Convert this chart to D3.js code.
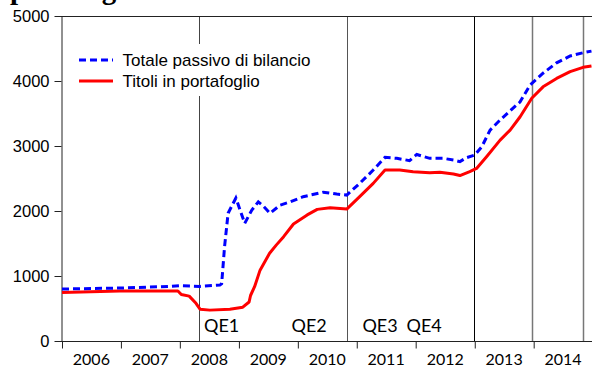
<!DOCTYPE html>
<html>
<head>
<meta charset="utf-8">
<script src="https://cdn.jsdelivr.net/npm/d3@7/dist/d3.min.js"></script>
<style>
  html, body { margin: 0; padding: 0; background: #fff; }
  svg { display: block; }
</style>
</head>
<body>
<svg id="chart" width="592" height="367"></svg>
<script>
// Fed balance sheet: total liabilities vs. securities held (billions USD)
const totaleDates = ["2006-01-01","2006-12-24","2007-10-30","2008-01-01","2008-05-05","2008-09-05","2008-09-16","2008-10-04","2008-10-26","2008-12-13","2009-02-06","2009-03-22","2009-05-01","2009-05-30","2009-07-13","2009-09-13","2009-11-14","2010-02-03","2010-06-07","2010-08-30","2010-10-31","2011-01-19","2011-04-13","2011-06-25","2011-09-06","2011-11-24","2012-01-08","2012-03-28","2012-06-20","2012-08-22","2012-10-01","2012-11-10","2013-01-01","2013-02-14","2013-04-06","2013-06-07","2013-08-08","2013-10-09","2013-12-10","2014-02-28","2014-05-23","2014-08-15","2014-11-03","2014-12-25"];
const totaleValues = [800,815,840,850,840,860,880,1450,1965,2200,1810,2015,2140,2080,1965,2090,2140,2220,2290,2260,2245,2425,2630,2825,2810,2775,2870,2810,2810,2785,2760,2820,2860,2990,3245,3400,3540,3680,3940,4120,4280,4385,4435,4460];

const titoliDates = ["2006-01-01","2006-12-24","2007-12-20","2008-01-10","2008-02-28","2008-04-10","2008-05-05","2008-07-05","2008-11-06","2009-01-25","2009-03-05","2009-03-14","2009-04-08","2009-05-12","2009-07-10","2009-08-20","2009-10-05","2009-12-05","2010-02-28","2010-05-01","2010-07-20","2010-10-31","2011-01-19","2011-04-13","2011-06-25","2011-09-24","2011-12-16","2012-03-28","2012-05-30","2012-08-22","2012-10-01","2012-12-01","2013-01-12","2013-03-15","2013-06-07","2013-08-08","2013-10-09","2013-12-20","2014-02-28","2014-05-23","2014-08-15","2014-11-03","2014-12-25"];
const titoliValues = [745,770,770,715,690,580,490,475,490,520,600,700,835,1090,1350,1475,1605,1800,1940,2025,2050,2030,2220,2425,2630,2630,2605,2590,2595,2570,2545,2605,2655,2835,3090,3245,3450,3735,3910,4040,4145,4210,4230];

const seriesNames = ["Totale passivo di bilancio", "Titoli in portafoglio"];
const yearLabels = ["2006","2007","2008","2009","2010","2011","2012","2013","2014"];
const yTicks = [0, 1000, 2000, 3000, 4000, 5000];

// announcement dates marked with vertical rules
const eventDates = ["2008-04-30","2010-11-04","2012-12-25","2013-12-22","2014-11-01"];
const eventShades = ["#444","#555","#000","#777","#777"];
const qeLabels = ["QE1","QE2","QE3","QE4"];
const qeDates = ["2008-05-30","2009-11-23","2011-02-05","2011-11-05"];

const parse = d3.timeParse("%Y-%m-%d");
const svg = d3.select("#chart");

const plotLeft = 61, plotRight = 592, plotTop = 16, plotBottom = 341;

const x = d3.scaleTime()
  .domain([new Date(2006, 0, 1), new Date(2015, 0, 1)])
  .range([62, 592.6]);
const y = d3.scaleLinear().domain([0, 5000]).range([plotBottom, plotTop]);

// page title (partly above the visible area)
svg.append("text")
  .attr("x", 10).attr("y", -1)
  .attr("font-family", "'Liberation Serif', 'Times New Roman', serif")
  .attr("font-weight", "bold")
  .attr("font-size", 29)
  .attr("fill", "#000")
  .text("portafoglio");

// clip for plotted content
svg.append("defs").append("clipPath").attr("id", "plot")
  .append("rect").attr("x", plotLeft).attr("y", plotTop)
  .attr("width", plotRight - plotLeft).attr("height", plotBottom - plotTop);

// event rules
svg.append("g").selectAll("line")
  .data(eventDates)
  .join("line")
  .attr("x1", d => Math.round(x(parse(d))) + 0.5)
  .attr("x2", d => Math.round(x(parse(d))) + 0.5)
  .attr("y1", plotTop).attr("y2", plotBottom)
  .attr("stroke", (d, i) => eventShades[i])
  .attr("stroke-width", (d, i) => i >= 3 ? 1.5 : 1);

// frame: top border
svg.append("line")
  .attr("x1", plotLeft).attr("x2", plotRight)
  .attr("y1", plotTop + 0.5).attr("y2", plotTop + 0.5)
  .attr("stroke", "#222").attr("stroke-width", 1);

// y axis
const yAxis = svg.append("g")
  .attr("transform", `translate(${plotLeft + 0.5},0)`)
  .call(d3.axisLeft(y).tickValues(yTicks).tickFormat(d3.format("d"))
    .tickSize(7).tickPadding(5).tickSizeOuter(0));
yAxis.select(".domain").attr("stroke", "#222");
yAxis.selectAll(".tick line").attr("stroke", "#222");
yAxis.selectAll("text")
  .attr("font-family", "'Liberation Sans', Arial, sans-serif")
  .attr("font-size", 16.5)
  .attr("fill", "#000");

// x axis: ticks at year boundaries, labels centred in each year
const yearStarts = yearLabels.map(s => new Date(+s, 0, 1));
const xAxis = svg.append("g")
  .attr("transform", `translate(0,${plotBottom + 0.5})`)
  .call(d3.axisBottom(x).tickValues(yearStarts).tickSize(7).tickFormat("").tickSizeOuter(0));
xAxis.select(".domain").attr("d", `M${plotLeft},0H${plotRight}`).attr("stroke", "#222");
xAxis.selectAll(".tick line").attr("stroke", "#222");

svg.append("g").selectAll("text")
  .data(yearLabels)
  .join("text")
  .attr("x", d => x(new Date(+d, 6, 2)))
  .attr("y", 364.5)
  .attr("text-anchor", "middle")
  .attr("font-family", "Lato, 'Open Sans', sans-serif")
  .attr("font-size", 16)
  .attr("fill", "#000")
  .text(d => d);

// QE labels
svg.append("g").selectAll("text")
  .data(qeLabels)
  .join("text")
  .attr("x", (d, i) => x(parse(qeDates[i])))
  .attr("y", 331.5)
  .attr("font-family", "Lato, 'Open Sans', sans-serif")
  .attr("font-size", 18)
  .attr("fill", "#000")
  .text(d => d);

// series
const totale = totaleDates.map((d, i) => ({ date: parse(d), value: totaleValues[i] }));
const titoli = titoliDates.map((d, i) => ({ date: parse(d), value: titoliValues[i] }));

const line = d3.line().x(d => x(d.date)).y(d => y(d.value));

const plot = svg.append("g").attr("clip-path", "url(#plot)");
plot.append("path")
  .datum(titoli)
  .attr("d", line)
  .attr("fill", "none")
  .attr("stroke", "#ff0000")
  .attr("stroke-width", 3)
  .attr("stroke-linejoin", "round");
plot.append("path")
  .datum(totale)
  .attr("d", line)
  .attr("fill", "none")
  .attr("stroke", "#0000ff")
  .attr("stroke-width", 3)
  .attr("stroke-dasharray", "7,4");

// legend
const legend = svg.append("g");
legend.append("rect")
  .attr("x", 68).attr("y", 44).attr("width", 262).attr("height", 52)
  .attr("fill", "#fff");
const legendStyles = [
  { color: "#0000ff", dash: "7,4", ly: 60, ty: 66 },
  { color: "#ff0000", dash: null, ly: 81, ty: 87 }
];
seriesNames.forEach((name, i) => {
  const s = legendStyles[i];
  legend.append("line")
    .attr("x1", 79).attr("x2", 113)
    .attr("y1", s.ly).attr("y2", s.ly)
    .attr("stroke", s.color).attr("stroke-width", 3)
    .attr("stroke-dasharray", s.dash);
  legend.append("text")
    .attr("x", 122.5).attr("y", s.ty)
    .attr("font-family", "'Liberation Sans', Arial, sans-serif")
    .attr("font-size", 17)
    .attr("fill", "#000")
    .text(name);
});
</script>
</body>
</html>
